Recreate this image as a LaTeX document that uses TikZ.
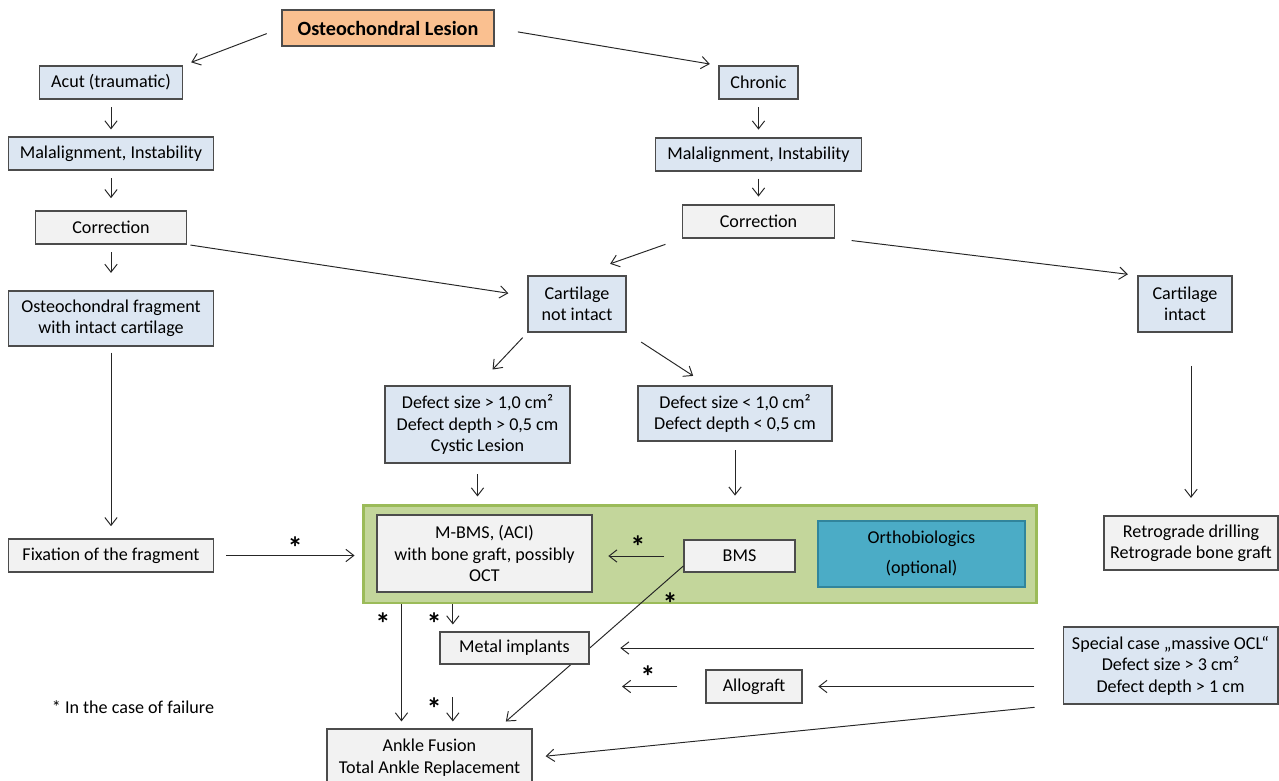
\documentclass[tikz,border=0pt]{standalone}
\usepackage{fontspec}
\setmainfont{Carlito}
\usetikzlibrary{positioning,arrows.meta}
\definecolor{boxblue}{HTML}{DCE6F2}
\definecolor{boxgray}{HTML}{F2F2F2}
\definecolor{boxorange}{HTML}{FAC090}
\definecolor{boxgreen}{HTML}{C3D69B}
\definecolor{linegreen}{HTML}{9BBB59}
\definecolor{boxteal}{HTML}{4BACC6}
\definecolor{lineteal}{HTML}{31859C}
\tikzstyle{box}=[draw=black!70,line width=0.6pt,align=center,inner sep=2pt,text=black,font=\fontsize{10.3}{12.2}\selectfont]
\tikzstyle{bluebox}=[box,fill=boxblue]
\tikzstyle{graybox}=[box,fill=boxgray]
\tikzstyle{star}=[font=\LARGE\bfseries,text=black,inner sep=0pt,yshift=-3pt]
\tikzset{boxsize/.style 2 args={minimum width=#1,minimum height=#2}}
\newcommand{\newBox}[4]{\node[#3](#1) at (#4){#2};}
\newcommand{\newArrow}[4]{\draw[->,#4] (#1) -- #3 (#2);}

\begin{document}
\begin{tikzpicture}[x=0.02cm,y=-0.02cm,
      >={Straight Barb[length=4.5pt,width=7pt]},
      line width=0.55pt,black!85
      ]
      \useasboundingbox (0,0) rectangle (1279,781);
      % top
      \newBox{lesion}{\fontsize{11.5}{13}\selectfont\bfseries Osteochondral Lesion}{box,fill=boxorange,boxsize={4.24cm}{0.72cm}}{388,28}
      % acute branch
      \newBox{acut}{Acut (traumatic)}{bluebox,boxsize={2.86cm}{0.66cm}}{111,82.5}
      \newBox{malL}{Malalignment, Instability}{bluebox,boxsize={4.1cm}{0.66cm}}{111,153.5}
      \newBox{corrL}{Correction}{graybox,boxsize={3.02cm}{0.66cm}}{111,227.5}
      \newBox{fragment}{Osteochondral fragment\\with intact cartilage}{bluebox,boxsize={4.1cm}{1.1cm}}{111,318.5}
      \newBox{fixation}{Fixation of the fragment}{graybox,boxsize={4.1cm}{0.66cm}}{111,555.5}
      % chronic branch
      \newBox{chronic}{Chronic}{bluebox,boxsize={1.58cm}{0.66cm}}{758.5,82.5}
      \newBox{malR}{Malalignment, Instability}{bluebox,boxsize={4.12cm}{0.66cm}}{758.5,154.5}
      \newBox{corrR}{Correction}{graybox,boxsize={3.04cm}{0.66cm}}{758.5,221.5}
      \newBox{notintact}{Cartilage\\not intact}{bluebox,boxsize={1.96cm}{1.12cm}}{577,304}
      \newBox{intact}{Cartilage\\intact}{bluebox,boxsize={1.88cm}{1.12cm}}{1185,304}
      \newBox{defBig}{Defect size > 1,0 cm²\\Defect depth > 0,5 cm\\Cystic Lesion}{bluebox,boxsize={3.7cm}{1.54cm}}{477.5,424.5}
      \newBox{defSmall}{Defect size < 1,0 cm²\\Defect depth < 0,5 cm}{bluebox,boxsize={3.88cm}{1.1cm}}{735,413.5}
      % treatment
      \newBox{green}{}{fill=boxgreen,draw=linegreen,line width=1.7pt,boxsize={13.48cm}{1.96cm}}{700,554}
      \newBox{mbms}{M-BMS, (ACI)\\with bone graft, possibly\\OCT}{graybox,boxsize={4.3cm}{1.54cm}}{484.5,553.5}
      \newBox{bms}{BMS}{graybox,boxsize={2.22cm}{0.64cm}}{739.5,556}
      \newBox{ortho}{Orthobiologics\\[5pt](optional)}{box,fill=boxteal,draw=lineteal,line width=1.4pt,boxsize={4.14cm}{1.32cm}}{921.5,554}
      \newBox{retro}{Retrograde drilling\\Retrograde bone graft}{graybox,boxsize={3.48cm}{1.08cm}}{1191,543}
      \newBox{special}{Special case „massive OCL“\\Defect size > 3 cm²\\Defect depth > 1 cm}{bluebox,boxsize={4.3cm}{1.54cm}}{1170.5,665.5}
      \newBox{allo}{Allograft}{graybox,boxsize={1.92cm}{0.66cm}}{754,686.5}
      \newBox{ankle}{Ankle Fusion\\Total Ankle Replacement}{graybox,boxsize={4.1cm}{1.14cm}}{429.5,757.5}
      \newArrow{bms.190}{ankle.23}{node[star,pos=0.2,right=9pt]{*}}{shorten >=6pt}
      \newBox{metal}{Metal implants}{graybox,boxsize={2.98cm}{0.64cm}}{514.5,648}
      \coordinate (allofail) at (622,686.5);
      \node[font=\fontsize{10.3}{12}\selectfont,text=black] (note) at (133,707) {* In the case of failure};
      % arrows
      \newArrow{lesion.west}{acut.north east}{}{shorten <=9pt,shorten >=5pt}
      \newArrow{lesion.east}{chronic.north west}{}{shorten <=13.5pt,shorten >=5pt}
      \newArrow{acut.south}{malL.north}{}{shorten <=4.5pt,shorten >=4pt}
      \newArrow{malL.south}{corrL.north}{}{shorten <=4.5pt,shorten >=7pt}
      \newArrow{corrL.south}{fragment.north}{}{shorten <=4.5pt,shorten >=10pt}
      \newArrow{fragment.south}{fixation.north}{}{shorten <=3.5pt,shorten >=7pt}
      \newArrow{fixation.east}{fixation.east -| green.west}{node[star,pos=0.55,above=1pt]{*}}{shorten <=7pt,shorten >=4pt}
      \newArrow{chronic.south}{malR.north}{}{shorten <=4.5pt,shorten >=4.5pt}
      \newArrow{malR.south}{corrR.north}{}{shorten <=4pt,shorten >=4.5pt}
      \newArrow{corrL.south east}{notintact.171}{}{shorten <=2pt,shorten >=11pt}
      \newArrow{corrR.south west}{notintact.north}{}{shorten <=10pt,shorten >=20pt}
      \newArrow{corrR.south east}{intact.north west}{}{shorten <=9.5pt,shorten >=5.5pt}
      \newArrow{notintact.south west}{defBig.north}{}{shorten <=4pt,shorten >=12.5pt}
      \newArrow{notintact.south east}{defSmall.134}{}{shorten <=10pt,shorten >=10pt}
      \newArrow{defBig.south}{defBig.south |- green.north}{}{shorten <=6pt,shorten >=4pt}
      \newArrow{defSmall.south}{defSmall.south |- green.north}{}{shorten <=5pt,shorten >=4.5pt}
      \newArrow{retro.north |- intact.south}{retro.north}{}{shorten <=19pt,shorten >=10pt}
      \newArrow{bms.west}{bms.west -| mbms.east}{node[star,midway,above=2pt]{*}}{shorten <=11pt,shorten >=9pt}
      \newArrow{ankle.134 |- green.south}{ankle.134}{node[star,pos=0.11,left=6pt]{*}}{shorten >=4pt}
      \newArrow{metal.165 |- green.south}{metal.165}{node[star,pos=0.5,left=6pt]{*}}{shorten >=4pt}
      \newArrow{metal.165 |- metal.south}{metal.165 |- ankle.north}{node[star,pos=0.6,left=6pt]{*}}{shorten <=18.5pt,shorten >=4pt}
      \newArrow{special.west |- metal.east}{metal.east}{}{shorten <=16pt,shorten >=17.5pt}
      \newArrow{special.west |- allo.east}{allo.east}{}{shorten <=16pt,shorten >=9pt}
      \newArrow{allo.west}{allofail}{node[star,pos=0.69,above=2pt]{*}}{shorten <=16pt}
      \newArrow{special.south west}{ankle.east}{}{shorten <=16pt,shorten >=7.5pt}
    \end{tikzpicture}
\end{document}
